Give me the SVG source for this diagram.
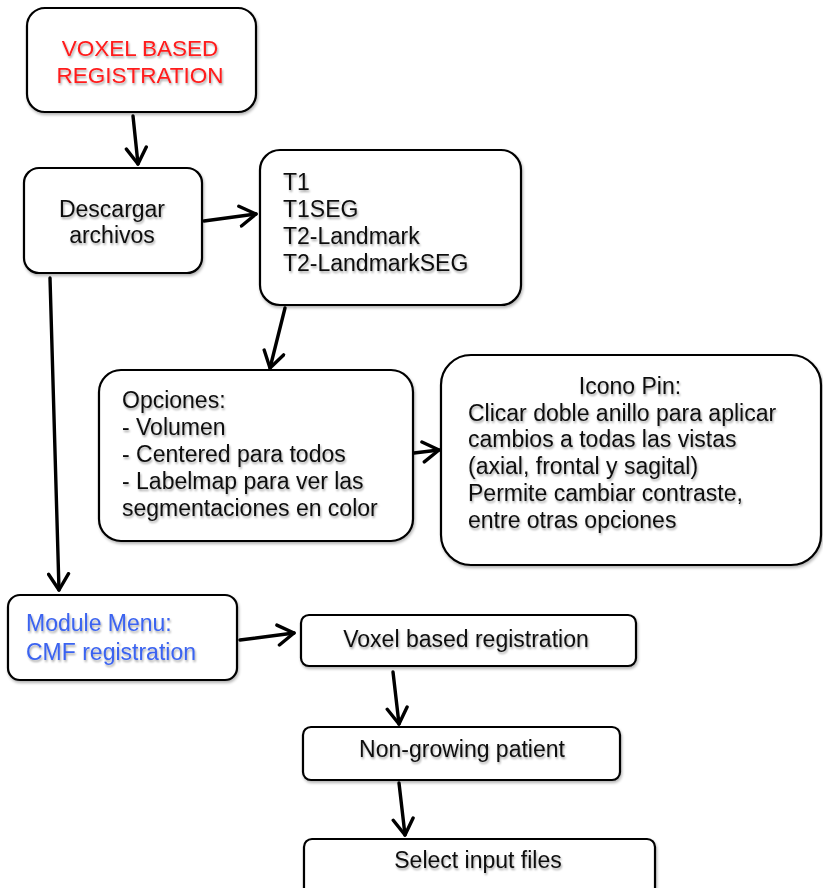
<svg xmlns="http://www.w3.org/2000/svg" width="823" height="888" viewBox="0 0 823 888">
  <style>
    .box { fill: #ffffff; stroke: #000000; stroke-width: 2.2; filter: url(#boxShadow); }
    .t { font-family: "Liberation Sans", Arial, sans-serif; font-size: 23px; fill: #111111; filter: url(#textShadow); }
    .red { fill: #ff1a1a; font-size: 22.5px; }
    .blue { fill: #3b63f0; }
    .mid { text-anchor: middle; }
    .conn { fill: none; stroke: #000000; stroke-width: 3.4; stroke-linecap: round; marker-end: url(#head); }
  </style>
  <defs>
    <filter id="textShadow" x="-10%" y="-30%" width="120%" height="170%">
      <feGaussianBlur in="SourceAlpha" stdDeviation="1.2"/>
      <feOffset dx="0.5" dy="2" result="b"/>
      <feComponentTransfer><feFuncA type="linear" slope="0.35"/></feComponentTransfer>
      <feMerge><feMergeNode/><feMergeNode in="SourceGraphic"/></feMerge>
    </filter>
    <filter id="boxShadow" x="-5%" y="-5%" width="112%" height="115%">
      <feGaussianBlur in="SourceAlpha" stdDeviation="1.5"/>
      <feOffset dx="1" dy="2" result="b"/>
      <feComponentTransfer><feFuncA type="linear" slope="0.3"/></feComponentTransfer>
      <feMerge><feMergeNode/><feMergeNode in="SourceGraphic"/></feMerge>
    </filter>
    <marker id="head" markerUnits="userSpaceOnUse" viewBox="0 0 20 24" refX="18" refY="12" markerWidth="20" markerHeight="24" orient="auto">
      <path d="M2,2 L18,12 L2,22" fill="none" stroke="#000" stroke-width="3.4" stroke-linecap="round" stroke-linejoin="round"/>
    </marker>
  </defs>

  <rect width="823" height="888" fill="#ffffff"/>

  <g id="connectors">
    <line class="conn" x1="133" y1="116" x2="138" y2="164"/>
    <line class="conn" x1="204" y1="221" x2="256" y2="214"/>
    <line class="conn" x1="285" y1="308" x2="270" y2="368"/>
    <line class="conn" x1="50" y1="278" x2="59" y2="590"/>
    <line class="conn" x1="414" y1="453" x2="439" y2="450"/>
    <line class="conn" x1="240" y1="640" x2="294" y2="633"/>
    <line class="conn" x1="393" y1="672" x2="399" y2="724"/>
    <line class="conn" x1="399" y1="783" x2="405" y2="835"/>
  </g>

  <g id="voxel-based-registration">
    <rect class="box" x="27" y="8" width="229" height="104" rx="18"/>
    <text class="t red mid" x="140" y="56">VOXEL BASED</text>
    <text class="t red mid" x="140" y="83">REGISTRATION</text>
  </g>

  <g id="descargar-archivos">
    <rect class="box" x="24" y="168" width="178" height="105" rx="15"/>
    <text class="t mid" x="112" y="217">Descargar</text>
    <text class="t mid" x="112" y="243">archivos</text>
  </g>

  <g id="archivos-lista">
    <rect class="box" x="260" y="150" width="261" height="155" rx="20"/>
    <text class="t" x="283" y="190">T1</text>
    <text class="t" x="283" y="217">T1SEG</text>
    <text class="t" x="283" y="244">T2-Landmark</text>
    <text class="t" x="283" y="271">T2-LandmarkSEG</text>
  </g>

  <g id="opciones">
    <rect class="box" x="99" y="370" width="314" height="171" rx="22"/>
    <text class="t" x="122" y="408">Opciones:</text>
    <text class="t" x="122" y="435">- Volumen</text>
    <text class="t" x="122" y="462">- Centered para todos</text>
    <text class="t" x="122" y="489">- Labelmap para ver las</text>
    <text class="t" x="122" y="516">segmentaciones en color</text>
  </g>

  <g id="icono-pin">
    <rect class="box" x="441" y="355" width="380" height="210" rx="30"/>
    <text class="t mid" x="630" y="394">Icono Pin:</text>
    <text class="t" x="468" y="421">Clicar doble anillo para aplicar</text>
    <text class="t" x="468" y="447">cambios a todas las vistas</text>
    <text class="t" x="468" y="474">(axial, frontal y sagital)</text>
    <text class="t" x="468" y="501">Permite cambiar contraste,</text>
    <text class="t" x="468" y="528">entre otras opciones</text>
  </g>

  <g id="module-menu">
    <rect class="box" x="8" y="595" width="229" height="85" rx="12"/>
    <text class="t blue" x="26" y="631">Module Menu:</text>
    <text class="t blue" x="26" y="660">CMF registration</text>
  </g>

  <g id="voxel-based-registration-step">
    <rect class="box" x="301" y="615" width="335" height="51" rx="8"/>
    <text class="t mid" x="466" y="647">Voxel based registration</text>
  </g>

  <g id="non-growing-patient">
    <rect class="box" x="303" y="727" width="317" height="53" rx="8"/>
    <text class="t mid" x="462" y="757">Non-growing patient</text>
  </g>

  <g id="select-input-files">
    <rect class="box" x="304" y="839" width="351" height="60" rx="8"/>
    <text class="t mid" x="478" y="868">Select input files</text>
  </g>
</svg>
